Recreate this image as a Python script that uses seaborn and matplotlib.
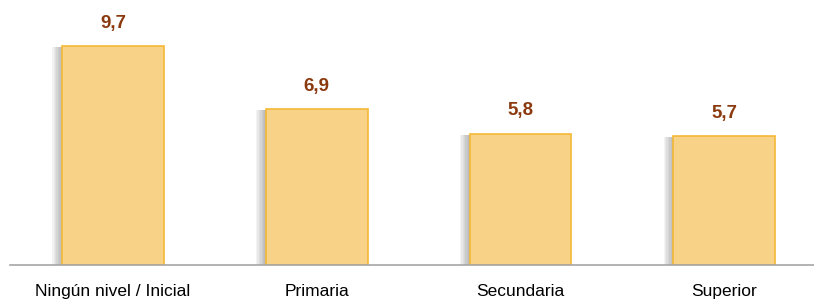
import matplotlib
matplotlib.use("Agg")
import matplotlib.pyplot as plt
import matplotlib.patheffects as pe
import seaborn as sns
import pandas as pd

categories = ["Ningún nivel / Inicial", "Primaria", "Secundaria", "Superior"]
values = [9.7, 6.9, 5.8, 5.7]
value_labels = ["9,7", "6,9", "5,8", "5,7"]

sns.set_style("white")
plt.rcParams["font.family"] = ["Liberation Sans Narrow", "Liberation Sans", "DejaVu Sans"]

df = pd.DataFrame({"nivel": categories, "valor": values})

fig = plt.figure(figsize=(8.14, 3.03), dpi=100)
ax = fig.add_axes([10 / 814, 38 / 303, 804 / 814, 248 / 303])

sns.barplot(data=df, x="nivel", y="valor", ax=ax, width=0.5,
            color="#F8D287", edgecolor="#F5B838", linewidth=1.2, saturation=1)

# soft shadow on the left side of each bar
shadow = [pe.SimplePatchShadow(offset=(-k, -0.5), shadow_rgbFace="#7a7a7a", alpha=0.09)
          for k in range(7, 0, -1)]
for bar in ax.patches:
    bar.set_path_effects(shadow + [pe.Normal()])

for i, (v, lab) in enumerate(zip(values, value_labels)):
    ax.annotate(lab, (i, v), xytext=(0, 13.5), textcoords="offset points",
                ha="center", va="baseline", fontsize=13.5, fontweight="bold",
                color="#8B3A0F")

ax.set_xlim(-0.505, 3.44)
ax.set_ylim(0, 11)
ax.set_xlabel("")
ax.set_ylabel("")
ax.set_yticks([])
for s in ["top", "right", "left"]:
    ax.spines[s].set_visible(False)
ax.spines["bottom"].set_color("#A6A6A6")
ax.spines["bottom"].set_linewidth(1.2)
ax.tick_params(axis="x", length=0, pad=13.5, labelsize=12.5, colors="black")

fig.savefig("out.png", dpi=100)
